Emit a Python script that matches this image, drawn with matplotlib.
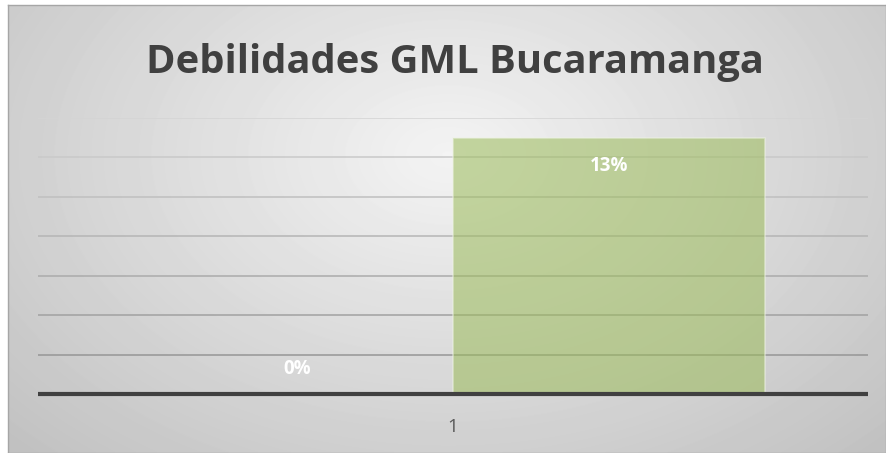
import matplotlib
matplotlib.use('Agg')
import matplotlib.pyplot as plt
import numpy as np

CATEGORIES = ['1']
SERIES_VALUES = [0.0, 0.13]
VALUE_LABELS = ['0%', '13%']
TITLE = 'Debilidades GML Bucaramanga'

W, H = 886, 453
plt.rcParams['font.family'] = ['Open Sans', 'DejaVu Sans']

fig = plt.figure(figsize=(W / 100, H / 100), dpi=100)
fig.patch.set_facecolor('white')

# background panel with radial gradient
bg = fig.add_axes([8 / W, 0, (W - 8) / W, (H - 5) / H], zorder=-10)
yy, xx = np.mgrid[0:448, 0:878]
r = np.sqrt(((xx - 440) / 620.0) ** 2 + ((yy - 150) / 420.0) ** 2)
shade = np.clip(0.955 - 0.2 * r, 0.76, 0.96)
bg.imshow(shade, cmap='gray', vmin=0, vmax=1, aspect='auto', interpolation='bilinear')
bg.set_xticks([])
bg.set_yticks([])
for s in bg.spines.values():
    s.set_color('#a6a6a6')
    s.set_linewidth(1)

# plot area
ax = fig.add_axes([38 / W, 59 / H, 830 / W, 276 / H])
ax.set_facecolor('none')
ax.set_xlim(-0.5, 0.5)
ax.set_ylim(0, 0.14)

# gridlines fade towards the top
grid_vals = np.arange(0.02, 0.141, 0.02)
for g in grid_vals:
    frac = g / 0.14
    c = 0.55 + 0.28 * frac
    ax.axhline(g, color=(c, c, c), linewidth=1.1, zorder=1)

width = 312 / 830
x = np.arange(len(CATEGORIES))
offsets = [-width / 2, width / 2]
for i, v in enumerate(SERIES_VALUES):
    ax.bar(x + offsets[i], v, width=width, color='#9BBB59', alpha=0.55,
           edgecolor='#eef3e4', linewidth=1.2, zorder=2)
    ypos = v - 0.0145 if v > 0.01 else v + 0.0125
    ax.text(x[0] + offsets[i], ypos, VALUE_LABELS[i], ha='center', va='center',
            color='white', fontsize=13.5, fontweight='bold', zorder=3)

ax.set_yticks([])
ax.set_xticks(x)
ax.set_xticklabels(CATEGORIES, fontsize=13.5, color='#595959')
ax.tick_params(axis='x', length=0, pad=17)
for side in ['top', 'right', 'left']:
    ax.spines[side].set_visible(False)
ax.spines['bottom'].set_color('#404040')
ax.spines['bottom'].set_linewidth(3)
ax.spines['bottom'].set_capstyle('butt')

fig.text(455 / W, 1 - 62 / H, TITLE, ha='center', va='center', fontsize=28.7,
         fontweight='bold', color='#404040')

fig.savefig('out.png', dpi=100)
